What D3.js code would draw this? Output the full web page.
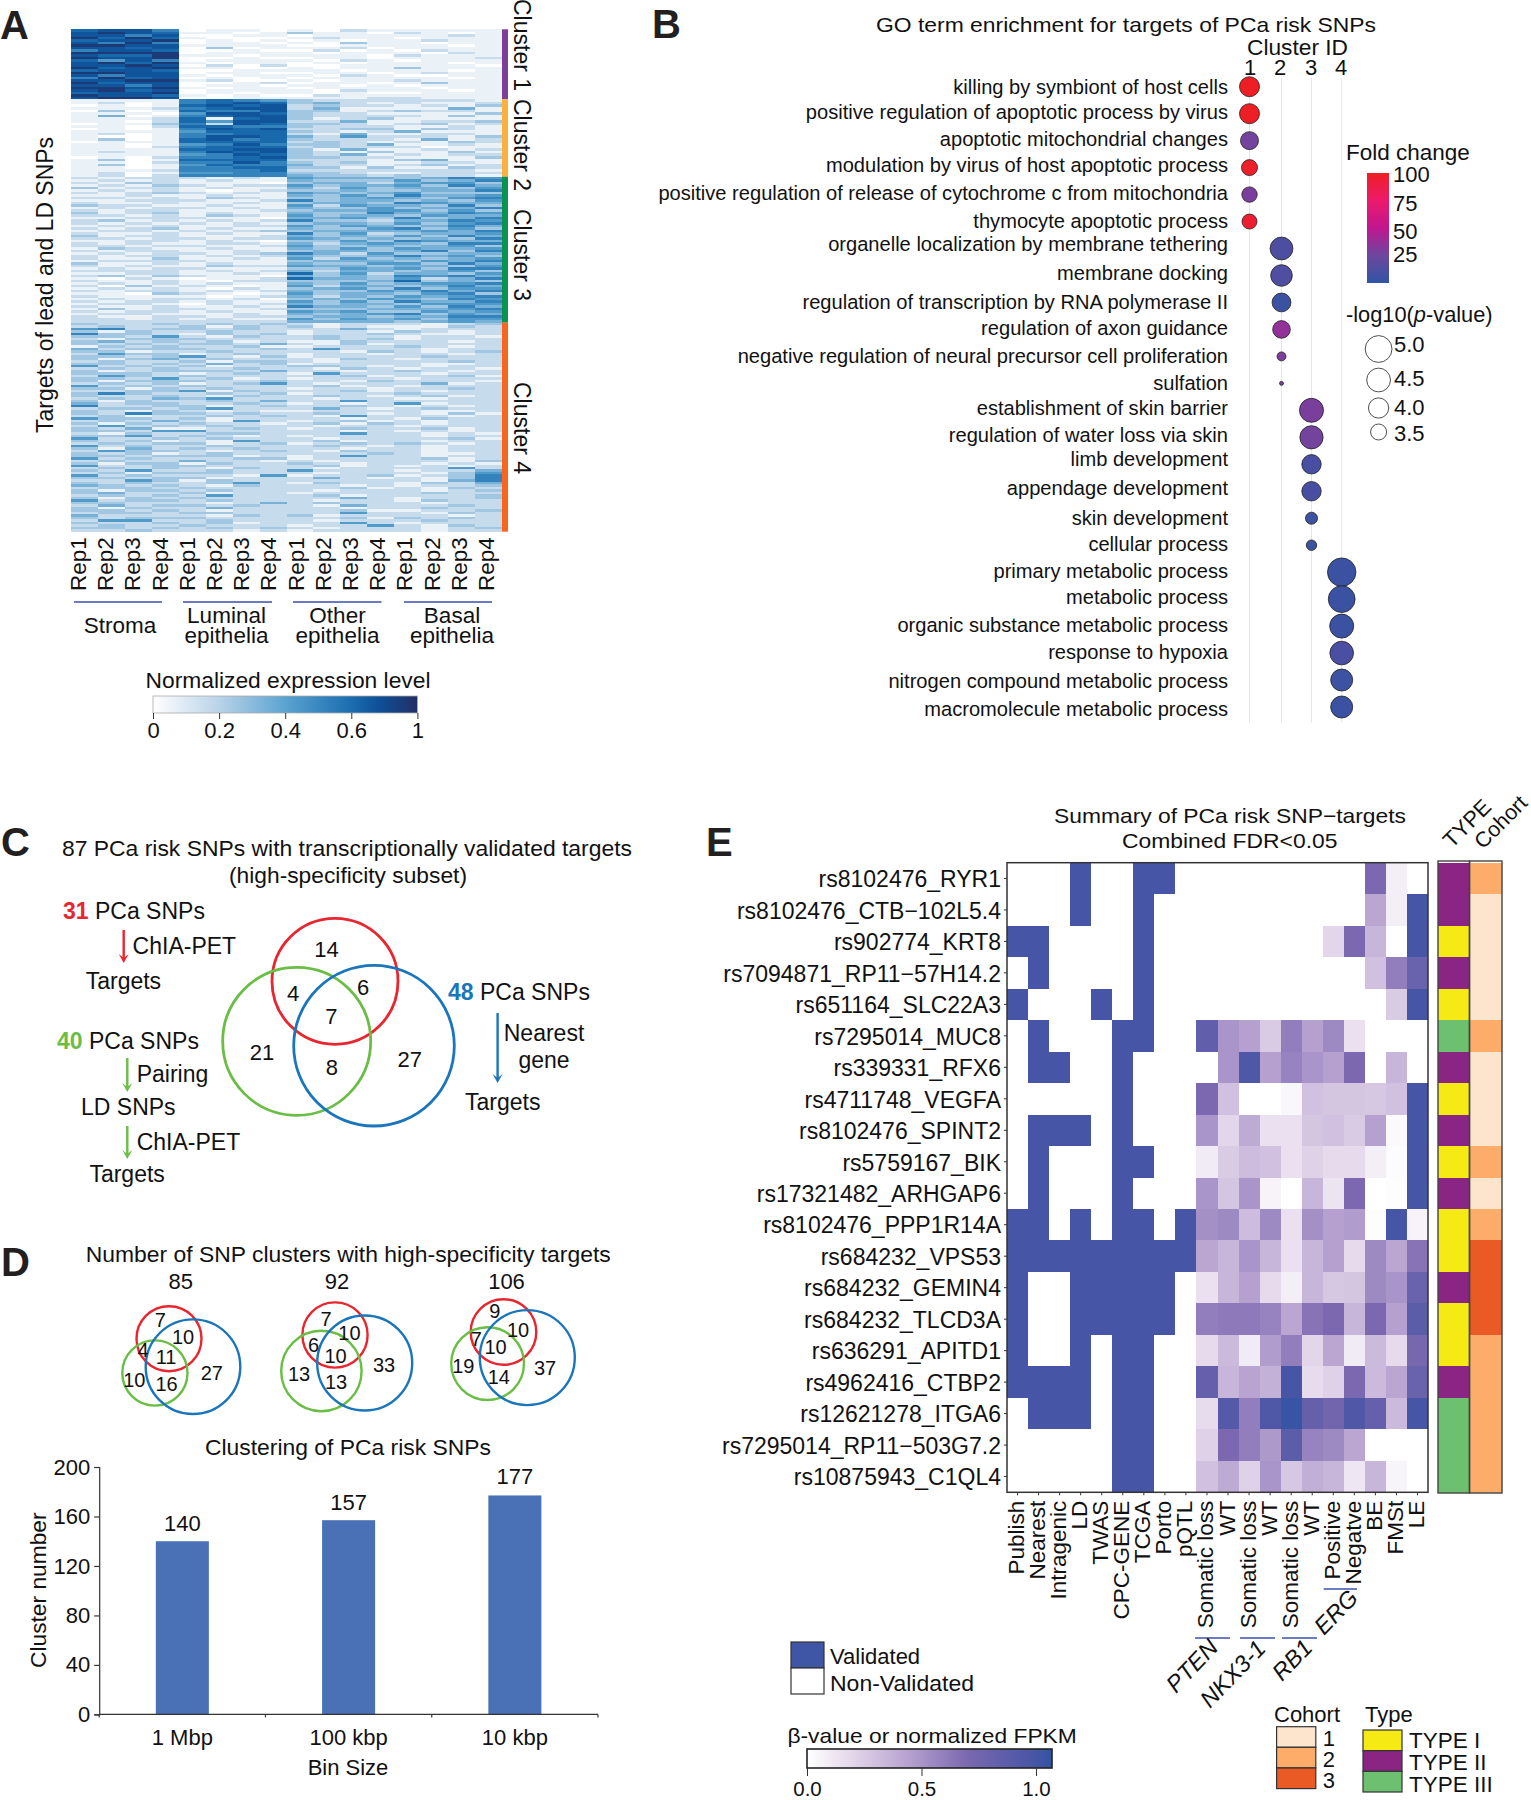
<!DOCTYPE html>
<html>
<head>
<meta charset="utf-8">
<script src="https://cdn.jsdelivr.net/npm/d3@7"></script>
<style>
html,body{margin:0;padding:0;background:#fff}
svg{display:block}
text{font-family:"Liberation Sans",Arial,sans-serif;fill:#111}
</style>
</head>
<body>
<script>
/* ---------- Panel A data: one digit per replicate, read through digitLevels ---------- */
const digitLevels = [0,.06,.16,.25,.34,.43,.52,.62,.74,.92];
const repNames = ["Rep1","Rep2","Rep3","Rep4"];
const cellGroups = [["Stroma"],["Luminal","epithelia"],["Other","epithelia"],["Basal","epithelia"]];
const cluster1Rows = [
"7886 0110 1021 1111","8987 1101 3110 2101","8868 0011 0111 1121","9797 1000 1211 0111",
"7889 0101 0101 1211","8696 0110 1031 1011","9988 1111 0011 1101","8878 0301 1120 1111",
"6887 0010 0201 0211","9999 0111 1011 1021","8779 1101 1110 2111","9889 0010 0110 1112",
"7586 0111 1021 0111","8979 1011 0101 1101","8898 0202 0011 1110","9789 1100 1011 3111",
"7887 0011 1101 1101","9988 0110 0110 1211","8688 1011 1021 0011","6978 0101 0111 1101",
"8899 1200 1011 2111","9788 0012 0110 1311","8868 0110 1101 0111","9989 1011 0111 1011",
"8978 0111 1021 1101","7889 0101 1010 0111","9887 1010 0211 1111","8998 0011 1112 2111"];
const cluster2Rows = [
"1111 6765 3222 2221","1201 6787 3421 2112","0101 7878 2322 1213","1112 6788 2411 1141",
"0301 7668 3312 3221","1110 5887 3221 1113","1401 6788 3222 2131","1112 7178 3123 1111",
"1102 7588 2241 1223","0113 6287 3321 2312","1102 7766 3222 1121","0101 6878 2233 1321",
"1111 5777 3212 4111","1201 6677 2141 1221","1001 6887 4252 2213","1301 7867 3222 1412",
"0111 7777 2321 2132","1101 5686 3324 1121","1102 6777 2322 2011","1111 7788 3141 1212",
"1211 6878 3213 1131","1111 5687 3241 2122","0102 6678 3322 1113","1301 7777 2221 3411",
"1102 6686 3231 1221","1301 5766 4221 2312","1101 6677 3313 1132","1112 6667 2222 2221",
"1201 5566 3321 1222","1202 6666 4332 3221"];
const cluster3Rows = [
"2122 2121 5444 3465","1212 1211 4333 5346","2132 1110 3442 4553","1213 2122 5344 5364",
"3122 1211 4253 4435","1212 1012 3343 3446","2123 2121 5434 5333","1121 1211 4353 6445",
"2212 1321 3345 4356","1122 2112 6344 3435","2112 1121 3443 6544","3221 1211 5254 4363",
"1212 2121 4335 3446","2122 1112 3445 5353","3123 1211 4336 4465","2212 1321 5344 3544",
"1122 2110 4453 6346","2312 1212 6332 4465","2121 2121 3443 5356","1212 1122 5354 3464",
"2123 1211 4335 6353","1221 2123 3444 4546","2112 1211 6352 3445","3122 1112 4343 5364",
"2212 2122 5434 3436","1122 1210 3353 6544","2121 1221 4245 4366","2212 2112 5334 3453",
"1321 1211 4353 5445","2122 1121 3443 4636","1212 2123 6425 3344","2122 1212 4334 6453",
"2113 1121 5253 4345","1222 2111 3444 3546","3112 1211 4335 5364","2121 1322 5443 4435",
"1212 2111 3354 5366","2222 1212 4244 3453","1122 1121 7352 4435","2313 2110 4343 6564",
"1021 0112 7443 5246","2112 1022 3334 7343","1212 1211 4353 4556","2031 2101 5244 3464",
"1212 1021 3453 6355","2122 1212 4335 4646","1103 2101 5344 3563","2111 1012 4243 5456",
"1212 2120 3435 4365","2122 1211 5353 6446","1221 0212 4344 3555","2112 1121 6443 5364",
"1312 2112 3334 4456","2122 1211 5453 3545","1221 1121 4345 6354","2112 2122 3443 4466",
"2212 1211 5354 5355","2222 2222 4444 3454"];
const cluster4Rows = [
"3223 2323 2122 2123","2322 3132 3121 1132","5623 3232 2242 1222","3132 2322 1221 3212",
"6332 1323 1223 2112","3325 2132 2322 1221","2133 3222 2323 1222","3423 2312 1132 2212",
"3232 3324 2131 2222","1323 2231 1222 3212","4233 3223 2522 2122","3312 2322 2213 2123",
"2533 1232 1221 2212","3323 5213 1222 2322","3134 2322 2132 1222","2322 3133 2122 2232",
"3323 2423 1222 2112","5232 3122 3321 2122","2323 2232 2132 1221","3123 3324 2212 3212",
"3332 1232 1522 2122","2532 3222 2231 2231","3325 2312 1222 1222","3133 3223 2213 2221",
"2323 1235 2122 2412","5232 3222 2312 1222","3313 2322 1221 2232","2233 5132 2231 2122",
"3632 2323 1222 3222","3223 2132 2321 2312","2324 3522 2122 1122","3132 2324 2252 2222",
"4233 2232 1212 5122","6223 3123 2232 1212","2332 3522 2421 2322","3213 2121 1222 2112",
"3263 3232 2321 2131","2312 2323 2152 2212","5332 3122 2212 1322","2324 2152 1231 2122",
"3132 3221 2313 2122","2523 2322 2122 1222","3241 1232 1232 2312","3325 5222 2212 1212",
"2132 2332 2252 2121","3352 3212 1222 2122","5223 2322 2122 2231","3231 2152 2312 2122",
"2323 3123 1232 3212","5232 2322 2321 2122","3142 3232 2212 2122","2533 2123 2132 2122",
"3231 2322 2223 2112","3323 3312 1252 2122","5232 2233 1222 2312","2322 4221 2122 2213",
"3133 1322 3212 2121","5223 3222 2312 1212","2323 2132 2122 2252","3252 2322 5222 1224",
"2313 3322 2122 2135","5232 2215 1223 1236","3323 3122 2421 2136","2253 1322 2222 2146",
"3232 2352 1322 1324","4323 2132 2212 1223","2332 3222 2231 2132","3133 2322 2122 2123",
"3422 3122 1222 2322","2323 2522 2312 2223","3132 3222 2242 1223","5233 2322 2122 1322",
"3322 2124 2322 2122","2423 3232 2142 2232","3132 2422 2212 2322","3323 2122 2231 1223",
"2332 3322 2252 2132","4222 2132 3122 2212","3233 3222 2231 3232","2552 2322 2122 2322",
"3223 2312 2252 1222","2322 3222 1225 2132","3323 2323 2122 2123","2232 2212 1222 2122"];
const clusterNames = ["Cluster 1","Cluster 2","Cluster 3","Cluster 4"];
const exprLegendTicks = [0,0.2,0.4,0.6,1];

/* ---------- Panel B data ---------- */
const goTerms = ["killing by symbiont of host cells","positive regulation of apoptotic process by virus",
"apoptotic mitochondrial changes","modulation by virus of host apoptotic process",
"positive regulation of release of cytochrome c from mitochondria","thymocyte apoptotic process",
"organelle localization by membrane tethering","membrane docking","regulation of transcription by RNA polymerase II",
"regulation of axon guidance","negative regulation of neural precursor cell proliferation","sulfation",
"establishment of skin barrier","regulation of water loss via skin","limb development","appendage development",
"skin development","cellular process","primary metabolic process","metabolic process",
"organic substance metabolic process","response to hypoxia","nitrogen compound metabolic process","macromolecule metabolic process"];
const goCluster = ["1","1","1","1","1","1","2","2","2","2","2","2","3","3","3","3","3","3","4","4","4","4","4","4"];
const goFold = [100,100,27,98,29,95,12,13,5,36,30,28,29,27,10,10,6,4,5,5,5,11,6,5];
const goLogP = [3.97,3.97,3.72,3.5,3.44,3.4,4.36,4.18,3.82,3.68,2.93,2.72,4.54,4.42,3.89,3.89,3.14,3.02,5.29,5.0,4.54,4.48,4.24,4.24];
const goClusterIds = ["1","2","3","4"];
const foldTicks = [100,75,50,25];
const logPTicks = [5.0,4.5,4.0,3.5];

/* ---------- Panel C / D data ---------- */
const vennMainCounts = [14,4,6,7,21,8,27];
const vennCounts = [[7,10,4,11,10,16,27],[7,10,6,10,13,13,33],[9,10,7,10,19,14,37]];
const vennTotals = [85,92,106];
const binSizes = ["1 Mbp","100 kbp","10 kbp"];
const clusterNumbers = [140,157,177];
const clusterTicks = [0,40,80,120,160,200];

/* ---------- Panel E data ---------- */
const snpTargets = ["rs8102476_RYR1","rs8102476_CTB\u2212102L5.4","rs902774_KRT8","rs7094871_RP11\u221257H14.2","rs651164_SLC22A3",
"rs7295014_MUC8","rs339331_RFX6","rs4711748_VEGFA","rs8102476_SPINT2","rs5759167_BIK","rs17321482_ARHGAP6","rs8102476_PPP1R14A",
"rs684232_VPS53","rs684232_GEMIN4","rs684232_TLCD3A","rs636291_APITD1","rs4962416_CTBP2","rs12621278_ITGA6",
"rs7295014_RP11\u2212503G7.2","rs10875943_C1QL4"];
const evidenceNames = ["Publish","Nearest","Intragenic","LD","TWAS","CPC-GENE","TCGA","Porto","pQTL","Somatic loss","WT","Somatic loss","WT","Somatic loss","WT","Positive","Negatve","BE","FMSt","LE"];
const validatedRows = [
"000100110","000100100","110000100","010000100","100010100","010001100","011001000","000001000","011101000","010001100",
"010001000","110101101","111111111","100111110","100111110","100101100","111101100","011101100","000001100","000001100"];
const expressionRows = [
[0,0,0,0,0,0,0,0,.7,.08,0],
[0,0,0,0,0,0,0,0,.42,.08,1],
[0,0,0,0,0,0,.2,.7,.35,0,1],
[0,0,0,0,0,0,0,0,.3,.6,.8],
[0,0,0,0,0,0,0,0,0,.25,1],
[.85,.5,.45,.25,.6,.45,.55,.15,0,0,0],
[0,.5,.95,.45,.58,.5,.45,.7,0,.35,0],
[.7,.3,0,0,.04,.3,.28,.28,.27,.3,1],
[.5,.2,.4,.15,.15,.28,.3,.25,.45,.03,1],
[.1,.25,.32,.3,.15,.22,.18,.18,.08,.02,1],
[.5,.28,.5,.06,0,.35,.13,.7,0,.01,1],
[.52,.55,.32,.55,.15,.52,.45,.47,.01,1,.06],
[.42,.35,.5,.35,.15,.35,.45,.18,.55,.42,.65],
[.15,.35,.45,.18,.08,.35,.27,.28,.55,.5,.8],
[.6,.62,.62,.58,.42,.65,.7,.35,.7,.45,.88],
[.18,.33,.1,.47,.6,.2,.42,.1,.33,.18,.72],
[.82,.35,.43,.37,1,.17,.22,.7,.33,.42,.8],
[.17,.92,.6,.95,1.05,.82,.75,.95,.82,.33,1],
[.22,.7,.6,.48,.88,.58,.55,.42,0,0,0],
[.3,.4,.22,.5,.27,.38,.35,.12,.35,.05,0]];
const rowType = [2,2,1,2,1,3,2,1,2,1,2,1,1,2,1,1,2,3,3,3];
const rowCohort = [2,1,1,1,1,2,1,1,1,2,1,2,3,3,3,2,2,2,2,2];
const betaTicks = [0,0.5,1];
const typeNames = ["TYPE I","TYPE II","TYPE III"];
const cohortNames = ["1","2","3"];

/* ---------- helpers ---------- */
const svg = d3.select("body").append("svg").attr("width",1531).attr("height",1800);
const defs = svg.append("defs");
function T(x,y,s,o={}){
  const t = svg.append("text").attr("transform",`translate(${x},${y})`+(o.rot?` rotate(${o.rot})`:""))
    .attr("font-size",o.size||22).attr("text-anchor",o.anchor||"start").text(s);
  if(o.weight) t.attr("font-weight",o.weight);
  if(o.style) t.attr("font-style",o.style);
  if(o.fill) t.style("fill",o.fill);
  if(o.len) t.attr("textLength",o.len).attr("lengthAdjust","spacingAndGlyphs");
  return t;
}
const panel = (x,y,s)=>T(x,y,s,{size:40,weight:"bold",fill:"#231f20"});
function gradient(id,scale,dom,vertical){
  const g = defs.append("linearGradient").attr("id",id).attr("x1",0).attr("y1",0)
    .attr("x2",vertical?0:1).attr("y2",vertical?1:0);
  d3.range(0,1.0001,0.02).forEach(f=>g.append("stop").attr("offset",f).attr("stop-color",scale(dom(f))));
}
function styleAxis(g,size,color){
  g.select(".domain").remove();
  g.selectAll("line").attr("stroke",color||"#333");
  g.selectAll("text").attr("font-size",size).attr("font-family",null);
}

/* ---------- Panel A ---------- */
panel(0,39,"A");
const exprColor = d3.scaleLinear().domain([0,.1,.2,.3,.4,.5,.6,.77,1])
  .range(["#ffffff","#dce9f4","#b8d3e8","#8abbdc","#5ba3d0","#3a88c0","#1a6db0","#0e4f98","#232f64"]);
const hmX = d3.scaleBand().domain(d3.range(16)).range([71.3,501.7]);
const clusterData = [cluster1Rows,cluster2Rows,cluster3Rows,cluster4Rows];
const clusterEdges = [29.3,99.3,176.7,322.7,531.7];
const clusterBar = ["#7b3f98","#fbb040","#0a9350","#f7651f"];
const clusterLabelY = [-1,99,209,382];
clusterData.forEach((rows,c)=>{
  const y = d3.scaleBand().domain(d3.range(rows.length)).range([clusterEdges[c],clusterEdges[c+1]]);
  const g = svg.append("g").attr("shape-rendering","crispEdges");
  rows.forEach((r,i)=>{
    const vals = r.replace(/ /g,"").split("").map(d=>digitLevels[+d]);
    g.selectAll(null).data(vals).enter().append("rect")
      .attr("x",(d,j)=>hmX(j)).attr("y",y(i)).attr("width",hmX.bandwidth()+.5).attr("height",y.bandwidth()+.5)
      .attr("fill",d=>exprColor(d));
  });
  svg.append("rect").attr("x",502).attr("y",clusterEdges[c]).attr("width",6)
    .attr("height",clusterEdges[c+1]-clusterEdges[c]).attr("fill",clusterBar[c]);
  T(514,clusterLabelY[c],clusterNames[c],{rot:90,size:23});
});
T(53,433,"Targets of lead and LD SNPs",{rot:-90,size:23,len:296});
const repX = d3.scaleBand().domain(d3.range(16)).range([72.4,507.6]);
d3.range(16).forEach(i=>T(repX(i)+repX.bandwidth()/2,591,repNames[i%4],{rot:-90,size:22.5}));
const groupLines = [[74,162],[183,272],[293,381.5],[404,492]];
groupLines.forEach(l=>svg.append("line").attr("x1",l[0]).attr("x2",l[1]).attr("y1",602).attr("y2",602).attr("stroke","#3b4cb0").attr("stroke-width",1.6));
const groupCentre = [120,226.5,337.5,452];
cellGroups.forEach((g,i)=>{
  if(g.length===1) T(groupCentre[i],633,g[0],{anchor:"middle",size:22.5});
  else { T(groupCentre[i],622.5,g[0],{anchor:"middle",size:22.5}); T(groupCentre[i],643,g[1],{anchor:"middle",size:22.5}); }
});
T(288,688,"Normalized expression level",{anchor:"middle",size:22,len:285});
const exprAxisScale = d3.scaleLinear().domain(exprLegendTicks).range([153,219.1,285.2,351.3,417.4]);
gradient("gA",exprColor,f=>exprAxisScale.invert(153+f*264.4));
svg.append("rect").attr("x",153).attr("y",696).attr("width",264.4).attr("height",17).attr("fill","url(#gA)").attr("stroke","#aaa").attr("stroke-width",.8);
svg.append("g").attr("transform","translate(0,713)")
  .call(d3.axisBottom(exprAxisScale).tickValues(exprLegendTicks).tickSize(6).tickFormat(d=>String(d)))
  .call(g=>styleAxis(g,22)).call(g=>g.selectAll("text").attr("dy",null).attr("y",25));

/* ---------- Panel B ---------- */
panel(652,38,"B");
T(876,32,"GO term enrichment for targets of PCa risk SNPs",{size:21,len:500});
T(1247,55,"Cluster ID",{size:22,len:101});
const goX = d3.scaleOrdinal().domain(goClusterIds).range([1249.5,1281.5,1311.5,1341.7]);
const goY = d3.scalePoint().domain(goTerms).range([86.7,707]);
const goR = d3.scaleRadial().domain([2.67,5]).range([0,13.4]);
const foldColor = d3.scaleLinear().domain([0,25,50,75,100]).range(["#2f55a4","#6d479e","#c0168f","#ec1a6b","#ed1f24"]);
goClusterIds.forEach(c=>{
  svg.append("line").attr("x1",goX(c)).attr("x2",goX(c)).attr("y1",78).attr("y2",723).attr("stroke","#e6e6e6").attr("stroke-width",1);
});
const idLabelX = [1250,1280,1311,1341];
goClusterIds.forEach((c,i)=>T(idLabelX[i],75,c,{anchor:"middle",size:22}));
const goLabelCentre = [87,112,139,165,193,221,244,273,302,328,356,383,408,435,459,488,518,544,571,597,625,652,681,709];
goTerms.forEach((t,i)=>T(1228,goLabelCentre[i]+7,t,{anchor:"end",size:20.1}));
svg.append("g").selectAll("circle").data(goTerms).enter().append("circle")
  .attr("cx",(d,i)=>goX(goCluster[i])).attr("cy",d=>goY(d))
  .attr("r",(d,i)=>goR(goLogP[i])).attr("fill",(d,i)=>foldColor(goFold[i]))
  .attr("stroke","#222").attr("stroke-width",.8);
T(1346,160,"Fold change",{size:22.5});
gradient("gB",foldColor,f=>100-f*100,true);
svg.append("rect").attr("x",1367).attr("y",173).attr("width",22).attr("height",110).attr("fill","url(#gB)");
const foldLabelY = [182,211,239,262];
foldTicks.forEach((v,i)=>T(1393,foldLabelY[i],v,{size:22}));
const lp = T(1346,322,"-log10(",{size:21.8});
lp.append("tspan").attr("font-style","italic").text("p");
lp.append("tspan").text("-value)");
const logPY = [349,380,408,432], logPLabelY=[352,386,415,441];
logPTicks.forEach((v,i)=>{
  svg.append("circle").attr("cx",1378.6).attr("cy",logPY[i]).attr("r",goR(v)).attr("fill","#fff").attr("stroke","#222").attr("stroke-width",.8);
  T(1394,logPLabelY[i],v.toFixed(1),{size:22});
});

/* ---------- Panel C ---------- */
const RED="#e8262f", GREEN="#6abd45", BLUE="#1b75bb";
panel(1,856,"C");
T(62,856,"87 PCa risk SNPs with transcriptionally validated targets",{size:22,len:570});
T(348,883,"(high-specificity subset)",{anchor:"middle",size:22,len:238});
function lead(x,y,n,c){ const t=T(x,y,"",{size:23}); t.append("tspan").attr("font-weight","bold").style("fill",c).text(n); t.append("tspan").text(" PCa SNPs"); }
function arrow(x,y1,y2,c){
  svg.append("line").attr("x1",x).attr("x2",x).attr("y1",y1).attr("y2",y2-3).attr("stroke",c).attr("stroke-width",2.4);
  svg.append("path").attr("d",`M${x-5},${y2-9}L${x},${y2-5}L${x+5},${y2-9}L${x},${y2}Z`).attr("fill",c);
}
lead(63,919,"31",RED); arrow(123.7,930,963,RED);
T(132.6,954,"ChIA-PET",{size:23}); T(85.7,989,"Targets",{size:23});
lead(57,1049,"40",GREEN); arrow(127.3,1058,1092,GREEN);
T(136.7,1082,"Pairing",{size:23}); T(81,1115,"LD SNPs",{size:23});
arrow(127.3,1126,1159,GREEN); T(136.7,1150,"ChIA-PET",{size:23}); T(89.4,1182,"Targets",{size:23});
lead(448,1000,"48",BLUE); arrow(497.6,1013,1083,BLUE);
T(544,1041,"Nearest",{anchor:"middle",size:23}); T(544,1068,"gene",{anchor:"middle",size:23});
T(465,1110,"Targets",{size:23});
function ring(cx,cy,r,c,w){ svg.append("circle").attr("cx",cx).attr("cy",cy).attr("r",r).attr("fill","none").attr("stroke",c).attr("stroke-width",w); }
ring(335,981.3,63,RED,2.8); ring(296.7,1041.3,74,GREEN,2.8); ring(374,1045.7,80.3,BLUE,2.8);
const vennMainPos = [[326.5,949],[293,993],[363,987],[331.4,1016],[262,1052],[331.8,1067],[409.8,1059]];
vennMainCounts.forEach((n,i)=>T(vennMainPos[i][0],vennMainPos[i][1]+8,n,{anchor:"middle",size:22}));

/* ---------- Panel D ---------- */
panel(1,1276,"D");
T(85.7,1262,"Number of SNP clusters with high-specificity targets",{size:22,len:525});
const totalX=[180.8,337,506.5];
vennTotals.forEach((n,i)=>T(totalX[i],1289,n,{anchor:"middle",size:22}));
const vennRings = [
 [[169,1338.7,32.5],[154.9,1373,32.6],[193,1366.7,47.3]],
 [[335,1335,32.6],[321.4,1371,40.2],[364.7,1363,47.5]],
 [[503.5,1332,32.8],[487.6,1363.6,36.4],[527.3,1357.6,47.5]]];
const vennPos = [
 [[160.4,1320],[183,1337],[143,1350],[166,1356.5],[134.3,1380],[166.5,1384],[211.8,1373]],
 [[326,1319],[349.4,1333],[313.5,1345],[335.5,1355.5],[299,1374],[336,1382],[384,1364.5]],
 [[494.7,1311],[518,1330],[476.3,1339],[495.5,1347],[463.3,1365.6],[498.8,1377],[545,1368]]];
vennRings.forEach((v,k)=>{
  ring(v[0][0],v[0][1],v[0][2],RED,2.4); ring(v[1][0],v[1][1],v[1][2],GREEN,2.4); ring(v[2][0],v[2][1],v[2][2],BLUE,2.4);
  vennCounts[k].forEach((n,i)=>T(vennPos[k][i][0],vennPos[k][i][1]+7,n,{anchor:"middle",size:20}));
});
T(205,1454.7,"Clustering of PCa risk SNPs",{size:22,len:286});
const barX = d3.scaleBand().domain(binSizes).range([99.2,598]).paddingInner(.681).paddingOuter(.3405);
const barY = d3.scaleLinear().domain([0,200]).range([1714.4,1467]);
svg.append("g").selectAll("rect").data(binSizes).enter().append("rect")
  .attr("x",d=>barX(d)).attr("width",barX.bandwidth())
  .attr("y",(d,i)=>barY(clusterNumbers[i])).attr("height",(d,i)=>barY(0)-barY(clusterNumbers[i])).attr("fill","#4a71b6");
const barLabelLift = [10,10,11.5];
binSizes.forEach((b,i)=>T(barX(b)+barX.bandwidth()/2,barY(clusterNumbers[i])-barLabelLift[i],clusterNumbers[i],{anchor:"middle",size:22}));
svg.append("g").attr("transform","translate(99.2,0)")
  .call(d3.axisLeft(barY).tickValues(clusterTicks).tickSize(5).tickPadding(4))
  .call(g=>g.selectAll("text").attr("font-size",22).attr("font-family",null))
  .call(g=>g.selectAll(".domain,line").attr("stroke","#333").attr("stroke-width",1.2));
svg.append("g").attr("transform","translate(0,1714.4)")
  .call(d3.axisBottom(barX).tickSize(0).tickPadding(15))
  .call(g=>g.selectAll("text").attr("font-size",22).attr("font-family",null))
  .call(g=>g.select(".domain").attr("stroke","#333").attr("stroke-width",1.2).attr("d","M99.2,0H598"));
svg.append("g").attr("transform","translate(0,1714.4)").selectAll("line")
  .data(d3.range(4)).enter().append("line")
  .attr("x1",d=>99.2+d*166.27).attr("x2",d=>99.2+d*166.27).attr("y1",0).attr("y2",3).attr("stroke","#333").attr("stroke-width",1.2);
T(348,1774.7,"Bin Size",{anchor:"middle",size:22});
T(45.7,1668,"Cluster number",{rot:-90,size:22,len:155.6});

/* ---------- Panel E ---------- */
panel(706,856,"E");
T(1054,823,"Summary of PCa risk SNP\u2212targets",{size:21,len:352});
T(1122,848,"Combined FDR<0.05",{size:21,len:215.5});
const eX = d3.scaleBand().domain(d3.range(20)).range([1007,1428]);
const eY = d3.scaleBand().domain(d3.range(20)).range([862.7,1492.3]);
const betaColor = d3.scaleLinear().domain([0,.2,.45,.7,1,1.07]).range(["#ffffff","#e3d6ea","#b5a0cf","#7b68b0","#4655a5","#3155a3"]);
const eCells = [];
snpTargets.forEach((s,r)=>{
  validatedRows[r].split("").forEach((v,c)=>eCells.push({r,c,v:+v}));
  expressionRows[r].forEach((v,c)=>eCells.push({r,c:c+9,v}));
});
svg.append("g").attr("shape-rendering","crispEdges").selectAll("rect").data(eCells).enter().append("rect")
  .attr("x",d=>eX(d.c)).attr("y",d=>eY(d.r)).attr("width",eX.bandwidth()+.4).attr("height",eY.bandwidth()+.4)
  .attr("fill",d=>betaColor(d.v));
svg.append("rect").attr("x",1007).attr("y",862.7).attr("width",421).attr("height",629.6).attr("fill","none").attr("stroke","#333").attr("stroke-width",1.5);
svg.append("g").attr("transform","translate(1007,0)")
  .call(d3.axisLeft(eY).tickSize(3).tickPadding(3).tickFormat(i=>snpTargets[i]))
  .call(g=>styleAxis(g,23))
  .call(g=>g.selectAll("text").attr("dy","0.38em"));
svg.append("g").attr("transform","translate(0,1492.3)")
  .call(d3.axisBottom(eX).tickSize(3).tickFormat(i=>evidenceNames[i]))
  .call(g=>styleAxis(g,22.5))
  .call(g=>g.selectAll("text").attr("transform","rotate(-90)").attr("text-anchor","end").attr("x",-8.4).attr("y",6.5).attr("dy",null));
[[1195,1230,1638],[1240,1275,1638],[1282,1317,1638],[1323.7,1357,1589]].forEach(l=>
  svg.append("line").attr("x1",l[0]).attr("x2",l[1]).attr("y1",l[2]).attr("y2",l[2]).attr("stroke","#3a4fb0").attr("stroke-width",1.6));
[["PTEN",1176,1694],["NKX3-1",1210,1709],["RB1",1282,1682],["ERG",1324,1636]].forEach(a=>T(a[1],a[2],a[0],{rot:-46,style:"italic",size:23.5}));
const typeColor = d3.scaleOrdinal().domain([1,2,3]).range(["#f5ea14","#8a2584","#6cc070"]);
const cohortColor = d3.scaleOrdinal().domain([1,2,3]).range(["#fde5cd","#fdac6a","#e95a24"]);
const annG = svg.append("g").attr("shape-rendering","crispEdges");
annG.selectAll(".t").data(rowType).enter().append("rect").attr("x",1438).attr("width",31.5)
  .attr("y",(d,i)=>eY(i)).attr("height",eY.bandwidth()+.4).attr("fill",d=>typeColor(d));
annG.selectAll(".c").data(rowCohort).enter().append("rect").attr("x",1469.5).attr("width",32.5)
  .attr("y",(d,i)=>eY(i)).attr("height",eY.bandwidth()+.4).attr("fill",d=>cohortColor(d));
[[1438,31.5],[1469.5,32.5]].forEach(b=>svg.append("rect").attr("x",b[0]).attr("y",861).attr("width",b[1]).attr("height",632).attr("fill","none").attr("stroke","#444").attr("stroke-width",1.4));
T(1452,849,"TYPE",{rot:-45,size:22}); T(1483,850,"Cohort",{rot:-45,size:21.5});

svg.append("rect").attr("x",791).attr("y",1642).attr("width",33).attr("height",26).attr("fill","#3f55a5").attr("stroke","#333").attr("stroke-width",1.2);
svg.append("rect").attr("x",791).attr("y",1668).attr("width",33).attr("height",26).attr("fill","#fff").attr("stroke","#333").attr("stroke-width",1.2);
T(830,1664,"Validated",{size:22}); T(830,1691,"Non-Validated",{size:22,len:144});

T(787.4,1742.7,"\u03b2-value or normalized FPKM",{size:21,len:289.4});
const betaX = d3.scaleLinear().domain([0,1.07]).range([807,1052]);
gradient("gE",betaColor,f=>f*1.07);
svg.append("rect").attr("x",807).attr("y",1749).attr("width",245).attr("height",19).attr("fill","url(#gE)").attr("stroke","#222").attr("stroke-width",1.6);
svg.append("g").attr("transform","translate(0,1768)")
  .call(d3.axisBottom(betaX).tickValues(betaTicks).tickSize(8).tickFormat(d3.format(".1f")))
  .call(g=>styleAxis(g,20.5)).call(g=>g.selectAll("text").attr("dy",null).attr("y",27.5));

T(1274,1722,"Cohort",{size:22}); T(1365,1722,"Type",{size:22});
const cohortBoxY=[1726.7,1747.3,1768], cohortTextY=[1745.7,1766.7,1788];
const typeBoxY=[1730,1750.7,1771.3], typeTextY=[1748,1770,1791.7];
cohortNames.forEach((n,i)=>{
  svg.append("rect").attr("x",1276.6).attr("y",cohortBoxY[i]).attr("width",39.2).attr("height",20.6).attr("fill",cohortColor(i+1)).attr("stroke","#333").attr("stroke-width",1.2);
  T(1322.7,cohortTextY[i],n,{size:22});
});
typeNames.forEach((n,i)=>{
  svg.append("rect").attr("x",1363).attr("y",typeBoxY[i]).attr("width",39).attr("height",20.7).attr("fill",typeColor(i+1)).attr("stroke","#333").attr("stroke-width",1.2);
  T(1409,typeTextY[i],n,{size:22.5});
});
</script>
</body>
</html>
